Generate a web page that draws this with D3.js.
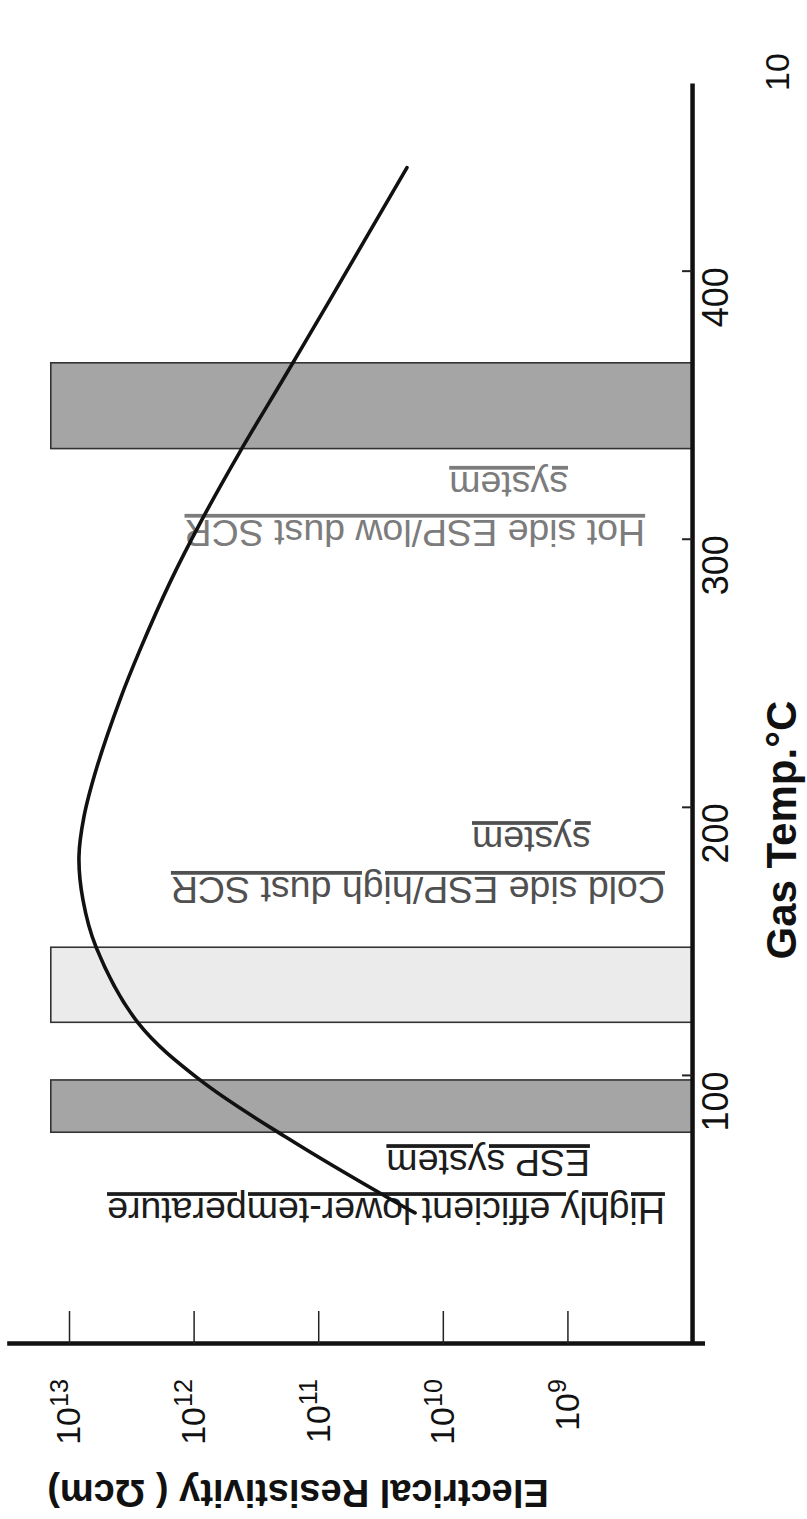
<!DOCTYPE html>
<html>
<head>
<meta charset="utf-8">
<script src="https://cdn.jsdelivr.net/npm/d3@7"></script>
<style>
  body { margin: 0; background: #fff; }
  text { font-family: "Liberation Sans", Arial, Helvetica, sans-serif; }
</style>
</head>
<body>
<div id="chart"></div>
<script>
// gas temperature (°C) against dust resistivity (ohm cm)
const curveTemp = [48.9, 52.6, 76.9, 98.5, 119.8, 148.1, 165.7, 181.7, 196.6, 215.3, 240.3, 259, 284, 307.5, 332.8, 362.3, 389.6, 438.8];
const curveRes = [1.67e10, 2.33e10, 1.78e11, 8.89e11, 2.79e12, 6.07e12, 7.73e12, 8.32e12, 7.59e12, 5.96e12, 3.9e12, 2.69e12, 1.55e12, 8.57e11, 4.25e11, 1.78e11, 8.03e10, 1.94e10];

// temperature windows of the three systems
const bandFrom = [79, 120, 334];
const bandTo = [98.5, 148, 366];
const bandShade = ["dark", "light", "dark"];
const bandTopRes = 1.4e13;

const tempTicks = [100, 200, 300, 400];
const resTicks = [1e9, 1e10, 1e11, 1e12, 1e13];

// notes, anchored at (temperature of baseline, resistivity where the line starts)
const noteText = ["Highly efficient lower-temperature", "ESP system",
                  "Cold side ESP/high dust SCR", "system",
                  "Hot side ESP/low dust SCR", "system"];
const noteTemp = [54.5, 72.4, 174.3, 192.9, 307.5, 325.4];
const noteRes = [1.65e8, 6.6e8, 1.65e8, 6.5e8, 2.38e8, 9.9e8];
const noteGroup = [0, 0, 1, 1, 2, 2];

function makeChart() {
  const width = 807;
  const height = 1519;
  const noteColor = ["#1c1c1c", "#505050", "#7c7c7c"];

  const svg = d3.select("#chart").append("svg")
    .attr("width", width)
    .attr("height", height);

  // the figure is printed sideways: draw it upright, then turn it a quarter
  const g = svg.append("g")
    .attr("transform", "translate(0," + height + ") rotate(-90)");

  const x = d3.scaleLinear().domain([0, 470]).range([175, 1435]);
  const y = d3.scaleLog().domain([Math.pow(10, 7.9), Math.pow(10, 13.5)]).range([704.5, 6.7]);

  // bands
  g.append("g")
    .selectAll("rect")
    .data(d3.range(bandFrom.length))
    .enter().append("rect")
      .attr("x", i => x(bandFrom[i]))
      .attr("width", i => x(bandTo[i]) - x(bandFrom[i]))
      .attr("y", y(bandTopRes))
      .attr("height", y(1e8) - y(bandTopRes))
      .attr("fill", i => bandShade[i] == "dark" ? "#a5a5a5" : "#ebebeb")
      .attr("stroke", "#333")
      .attr("stroke-width", 1.6);

  // notes
  g.append("g")
    .selectAll("text")
    .data(d3.range(noteText.length))
    .enter().append("text")
      .attr("transform", i => "translate(" + x(noteTemp[i]) + "," + y(noteRes[i]) + ") rotate(-90)")
      .attr("font-size", 37.5)
      .attr("fill", i => noteColor[noteGroup[i]])
      .attr("text-decoration", "underline")
      .text(i => noteText[i]);

  // resistivity curve
  const line = d3.line()
    .x((d, i) => x(curveTemp[i]))
    .y((d, i) => y(curveRes[i]))
    .curve(d3.curveCatmullRom.alpha(0.5));

  g.append("path")
    .datum(curveTemp)
    .attr("fill", "none")
    .attr("stroke", "#111")
    .attr("stroke-width", 3.6)
    .attr("stroke-linecap", "round")
    .attr("d", line);

  // temperature axis
  const xAxis = g.append("g")
    .attr("transform", "translate(0," + y(1e8) + ")")
    .call(d3.axisBottom(x).tickValues(tempTicks).tickSizeInner(-10).tickSizeOuter(0).tickPadding(10));
  xAxis.select(".domain").attr("stroke", "#111").attr("stroke-width", 4.5);
  xAxis.selectAll(".tick line").attr("stroke", "#222").attr("stroke-width", 2);
  xAxis.selectAll(".tick text")
    .attr("font-size", 36)
    .attr("font-family", null)
    .attr("fill", "#111")
    .attr("text-anchor", "end")
    .attr("x", 4);

  // resistivity axis
  const yAxis = g.append("g")
    .attr("transform", "translate(" + x(0) + ",0)")
    .call(d3.axisLeft(y).tickValues(resTicks).tickSizeInner(-33).tickSizeOuter(0).tickPadding(35));
  yAxis.select(".domain").attr("stroke", "#111").attr("stroke-width", 4.5);
  yAxis.selectAll(".tick line").attr("stroke", "#222").attr("stroke-width", 1.5);
  yAxis.selectAll(".tick text")
    .attr("font-size", 34)
    .attr("font-family", null)
    .attr("fill", "#111")
    .each(function(d) {
      const t = d3.select(this).text(null);
      t.append("tspan").text("10");
      t.append("tspan").attr("font-size", "0.74em").attr("dy", "-0.5em").text(Math.round(Math.log10(d)));
    });

  // axis titles
  g.append("text")
    .attr("x", x(191.7))
    .attr("y", 796)
    .attr("text-anchor", "middle")
    .attr("font-size", 42)
    .attr("font-weight", "bold")
    .attr("fill", "#111")
    .text("Gas Temp.°C");

  g.append("text")
    .attr("transform", "translate(39,298) rotate(-90)")
    .attr("text-anchor", "middle")
    .attr("font-size", 38)
    .attr("font-weight", "bold")
    .attr("fill", "#111")
    .text("Electrical Resistivity ( Ωcm)");

  // stray number at the page corner
  g.append("text")
    .attr("x", 1447)
    .attr("y", 777)
    .attr("dy", "0.35em")
    .attr("text-anchor", "middle")
    .attr("font-size", 34)
    .attr("fill", "#111")
    .text("10");
}

makeChart();
</script>
</body>
</html>
